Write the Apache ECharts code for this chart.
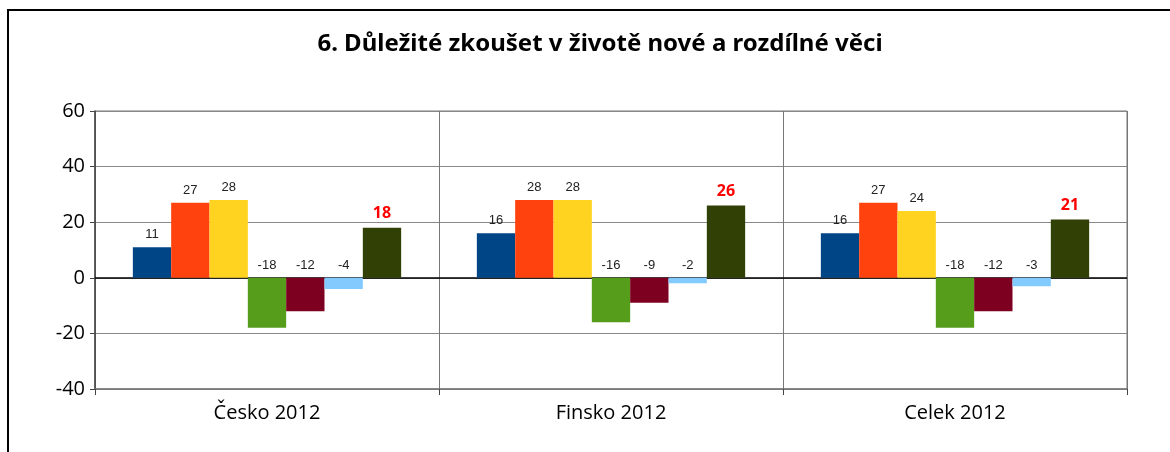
<!DOCTYPE html>
<html>
<head>
<meta charset="utf-8">
<script src="https://cdn.jsdelivr.net/npm/echarts@6/dist/echarts.min.js"></script>
<style>
  html, body { margin: 0; padding: 0; background: #fff; }
  #chart { width: 1170px; height: 452px; }
</style>
</head>
<body>
<div id="chart"></div>
<script>
// categories and values per series
const categories = ['Česko 2012', 'Finsko 2012', 'Celek 2012'];
const yTicks = [-40, -20, 0, 20, 40, 60];
const s1 = [11, 16, 16];
const s2 = [27, 28, 27];
const s3 = [28, 28, 24];
const s4 = [-18, -16, -18];
const s5 = [-12, -9, -12];
const s6 = [-4, -2, -3];
const s7 = [18, 26, 21];

const colors = ['#004586', '#ff420e', '#ffd320', '#579d1c', '#7e0021', '#83caff', '#314004'];
const seriesData = [s1, s2, s3, s4, s5, s6, s7];

let chart = echarts.init(document.getElementById('chart'));

const labelFont = {
  show: true,
  position: 'top',
  distance: 6,
  color: '#222',
  fontFamily: 'Liberation Sans',
  fontSize: 13
};

let series = seriesData.map(function (d, i) {
  let s = {
    type: 'bar',
    data: d,
    barGap: '0%',
    barCategoryGap: '22%',
    itemStyle: { color: colors[i] },
    label: Object.assign({}, labelFont)
  };
  if (i === 6) {
    s.label = Object.assign({}, labelFont, {
      color: '#ff0000',
      fontWeight: 'bold',
      fontFamily: 'Noto Sans',
      fontSize: 16
    });
  }
  if (i === 0) {
    s.markLine = {
      silent: true,
      symbol: 'none',
      label: { show: false },
      lineStyle: { color: '#000', width: 1.5, type: 'solid' },
      data: [{ yAxis: 0 }],
      z: 1
    };
  }
  return s;
});

let option = {
  animation: false,
  title: {
    text: '6. Důležité zkoušet v životě nové a rozdílné věci',
    left: 595,
    textAlign: 'center',
    top: 27,
    textStyle: {
      fontFamily: 'Noto Sans',
      fontWeight: 'bold',
      fontSize: 24,
      color: '#000'
    }
  },
  graphic: [{
    type: 'rect',
    shape: { x: 8, y: 10, width: 1200, height: 500 },
    style: { fill: 'none', stroke: '#000', lineWidth: 2 },
    silent: true
  }],
  grid: {
    left: 95,
    right: 43,
    top: 111,
    bottom: 63,
    show: true,
    borderColor: '#777',
    borderWidth: 1
  },
  xAxis: {
    type: 'category',
    data: categories,
    axisLine: { onZero: false, lineStyle: { color: '#777', width: 1.5 } },
    axisTick: { show: true, length: 6, lineStyle: { color: '#444' } },
    splitLine: { show: true, lineStyle: { color: '#777', width: 1 } },
    axisLabel: {
      color: '#000',
      fontFamily: 'Open Sans',
      fontSize: 20,
      margin: 14
    }
  },
  yAxis: {
    type: 'value',
    min: yTicks[0],
    max: yTicks[yTicks.length - 1],
    interval: 20,
    axisLine: { show: true, lineStyle: { color: '#444', width: 1.5 } },
    axisTick: { show: true, length: 5, lineStyle: { color: '#444' } },
    splitLine: { show: true, lineStyle: { color: '#888', width: 1 } },
    axisLabel: {
      color: '#000',
      fontFamily: 'Open Sans',
      fontSize: 20,
      margin: 10
    }
  },
  series: series
};

option && chart.setOption(option);
</script>
</body>
</html>
